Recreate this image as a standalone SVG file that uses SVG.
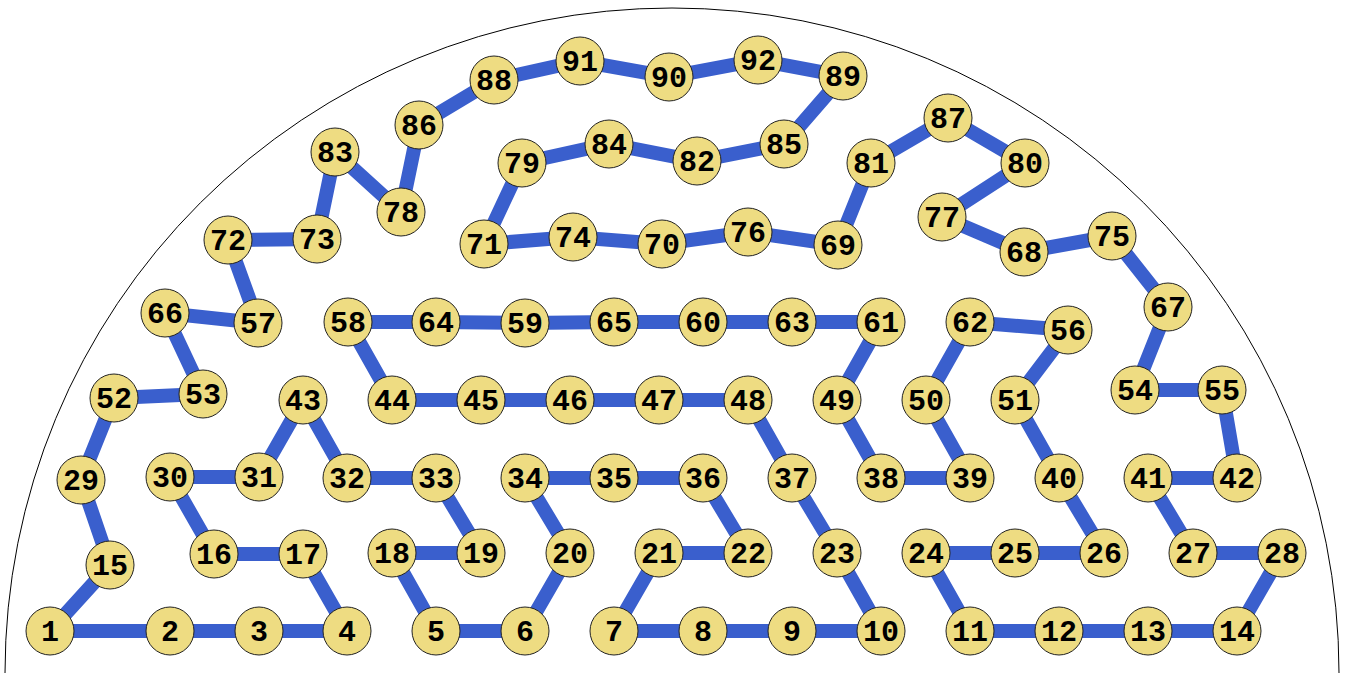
<svg xmlns="http://www.w3.org/2000/svg" width="1345" height="673" viewBox="0 0 1345 673">
<style>
.e{stroke:#3a5fcd;stroke-width:14;fill:none}
.n circle{fill:#eedc82;stroke:#222;stroke-width:1}
.n text{font-family:"Liberation Mono","Courier New",monospace;font-weight:bold;font-size:30px;text-anchor:middle;fill:#000}
</style>
<rect width="1345" height="673" fill="#fff"/>
<path d="M 5 673 A 667 665 0 0 1 1339 673" fill="none" stroke="#000" stroke-width="1"/>
<g id="connectors" class="e">
<polyline points="50,631 170,631 259,631 347,631 303,554 214,554 170,477 259,477 303,400 347,478 436,478 481,553 392,553 436,631 525,631 570,553 525,478 614,478 703,478 748,553 659,553 614,631 703,631 792,631 881,631 837,553 792,478 748,400 659,400 570,400 481,400 392,400 348,322 436,322 525,323 614,322 703,322 792,322 881,322 837,400 881,478 970,478 926,400 970,322 1068,330 1015,400 1059,478 1104,553 1015,553 926,553 970,631 1059,631 1148,631 1237,631 1282,553 1193,553 1148,478 1237,478 1222,390 1135,390 1168,307 1112,236 1024,252 942,217 1025,163 948,118 871,163 838,245 748,232 662,244 573,237 484,244 522,163 609,144 697,161 784,144 843,76 758,60 669,77 580,61 494,80 419,125 401,212 335,152 317,239 228,240 258,323 165,313 203,394 114,398 81,480 110,565 50,631"/>
</g>
<g id="n1" class="n"><circle cx="50" cy="631" r="24"/><text x="50" y="641">1</text></g>
<g id="n2" class="n"><circle cx="170" cy="631" r="24"/><text x="170" y="641">2</text></g>
<g id="n3" class="n"><circle cx="259" cy="631" r="24"/><text x="259" y="641">3</text></g>
<g id="n4" class="n"><circle cx="347" cy="631" r="24"/><text x="347" y="641">4</text></g>
<g id="n5" class="n"><circle cx="436" cy="631" r="24"/><text x="436" y="641">5</text></g>
<g id="n6" class="n"><circle cx="525" cy="631" r="24"/><text x="525" y="641">6</text></g>
<g id="n7" class="n"><circle cx="614" cy="631" r="24"/><text x="614" y="641">7</text></g>
<g id="n8" class="n"><circle cx="703" cy="631" r="24"/><text x="703" y="641">8</text></g>
<g id="n9" class="n"><circle cx="792" cy="631" r="24"/><text x="792" y="641">9</text></g>
<g id="n10" class="n"><circle cx="881" cy="631" r="24"/><text x="881" y="641">10</text></g>
<g id="n11" class="n"><circle cx="970" cy="631" r="24"/><text x="970" y="641">11</text></g>
<g id="n12" class="n"><circle cx="1059" cy="631" r="24"/><text x="1059" y="641">12</text></g>
<g id="n13" class="n"><circle cx="1148" cy="631" r="24"/><text x="1148" y="641">13</text></g>
<g id="n14" class="n"><circle cx="1237" cy="631" r="24"/><text x="1237" y="641">14</text></g>
<g id="n15" class="n"><circle cx="110" cy="565" r="24"/><text x="110" y="575">15</text></g>
<g id="n16" class="n"><circle cx="214" cy="554" r="24"/><text x="214" y="564">16</text></g>
<g id="n17" class="n"><circle cx="303" cy="554" r="24"/><text x="303" y="564">17</text></g>
<g id="n18" class="n"><circle cx="392" cy="553" r="24"/><text x="392" y="563">18</text></g>
<g id="n19" class="n"><circle cx="481" cy="553" r="24"/><text x="481" y="563">19</text></g>
<g id="n20" class="n"><circle cx="570" cy="553" r="24"/><text x="570" y="563">20</text></g>
<g id="n21" class="n"><circle cx="659" cy="553" r="24"/><text x="659" y="563">21</text></g>
<g id="n22" class="n"><circle cx="748" cy="553" r="24"/><text x="748" y="563">22</text></g>
<g id="n23" class="n"><circle cx="837" cy="553" r="24"/><text x="837" y="563">23</text></g>
<g id="n24" class="n"><circle cx="926" cy="553" r="24"/><text x="926" y="563">24</text></g>
<g id="n25" class="n"><circle cx="1015" cy="553" r="24"/><text x="1015" y="563">25</text></g>
<g id="n26" class="n"><circle cx="1104" cy="553" r="24"/><text x="1104" y="563">26</text></g>
<g id="n27" class="n"><circle cx="1193" cy="553" r="24"/><text x="1193" y="563">27</text></g>
<g id="n28" class="n"><circle cx="1282" cy="553" r="24"/><text x="1282" y="563">28</text></g>
<g id="n29" class="n"><circle cx="81" cy="480" r="24"/><text x="81" y="490">29</text></g>
<g id="n30" class="n"><circle cx="170" cy="477" r="24"/><text x="170" y="487">30</text></g>
<g id="n31" class="n"><circle cx="259" cy="477" r="24"/><text x="259" y="487">31</text></g>
<g id="n32" class="n"><circle cx="347" cy="478" r="24"/><text x="347" y="488">32</text></g>
<g id="n33" class="n"><circle cx="436" cy="478" r="24"/><text x="436" y="488">33</text></g>
<g id="n34" class="n"><circle cx="525" cy="478" r="24"/><text x="525" y="488">34</text></g>
<g id="n35" class="n"><circle cx="614" cy="478" r="24"/><text x="614" y="488">35</text></g>
<g id="n36" class="n"><circle cx="703" cy="478" r="24"/><text x="703" y="488">36</text></g>
<g id="n37" class="n"><circle cx="792" cy="478" r="24"/><text x="792" y="488">37</text></g>
<g id="n38" class="n"><circle cx="881" cy="478" r="24"/><text x="881" y="488">38</text></g>
<g id="n39" class="n"><circle cx="970" cy="478" r="24"/><text x="970" y="488">39</text></g>
<g id="n40" class="n"><circle cx="1059" cy="478" r="24"/><text x="1059" y="488">40</text></g>
<g id="n41" class="n"><circle cx="1148" cy="478" r="24"/><text x="1148" y="488">41</text></g>
<g id="n42" class="n"><circle cx="1237" cy="478" r="24"/><text x="1237" y="488">42</text></g>
<g id="n43" class="n"><circle cx="303" cy="400" r="24"/><text x="303" y="410">43</text></g>
<g id="n44" class="n"><circle cx="392" cy="400" r="24"/><text x="392" y="410">44</text></g>
<g id="n45" class="n"><circle cx="481" cy="400" r="24"/><text x="481" y="410">45</text></g>
<g id="n46" class="n"><circle cx="570" cy="400" r="24"/><text x="570" y="410">46</text></g>
<g id="n47" class="n"><circle cx="659" cy="400" r="24"/><text x="659" y="410">47</text></g>
<g id="n48" class="n"><circle cx="748" cy="400" r="24"/><text x="748" y="410">48</text></g>
<g id="n49" class="n"><circle cx="837" cy="400" r="24"/><text x="837" y="410">49</text></g>
<g id="n50" class="n"><circle cx="926" cy="400" r="24"/><text x="926" y="410">50</text></g>
<g id="n51" class="n"><circle cx="1015" cy="400" r="24"/><text x="1015" y="410">51</text></g>
<g id="n52" class="n"><circle cx="114" cy="398" r="24"/><text x="114" y="408">52</text></g>
<g id="n53" class="n"><circle cx="203" cy="394" r="24"/><text x="203" y="404">53</text></g>
<g id="n54" class="n"><circle cx="1135" cy="390" r="24"/><text x="1135" y="400">54</text></g>
<g id="n55" class="n"><circle cx="1222" cy="390" r="24"/><text x="1222" y="400">55</text></g>
<g id="n56" class="n"><circle cx="1068" cy="330" r="24"/><text x="1068" y="340">56</text></g>
<g id="n57" class="n"><circle cx="258" cy="323" r="24"/><text x="258" y="333">57</text></g>
<g id="n58" class="n"><circle cx="348" cy="322" r="24"/><text x="348" y="332">58</text></g>
<g id="n59" class="n"><circle cx="525" cy="323" r="24"/><text x="525" y="333">59</text></g>
<g id="n60" class="n"><circle cx="703" cy="322" r="24"/><text x="703" y="332">60</text></g>
<g id="n61" class="n"><circle cx="881" cy="322" r="24"/><text x="881" y="332">61</text></g>
<g id="n62" class="n"><circle cx="970" cy="322" r="24"/><text x="970" y="332">62</text></g>
<g id="n63" class="n"><circle cx="792" cy="322" r="24"/><text x="792" y="332">63</text></g>
<g id="n64" class="n"><circle cx="436" cy="322" r="24"/><text x="436" y="332">64</text></g>
<g id="n65" class="n"><circle cx="614" cy="322" r="24"/><text x="614" y="332">65</text></g>
<g id="n66" class="n"><circle cx="165" cy="313" r="24"/><text x="165" y="323">66</text></g>
<g id="n67" class="n"><circle cx="1168" cy="307" r="24"/><text x="1168" y="317">67</text></g>
<g id="n68" class="n"><circle cx="1024" cy="252" r="24"/><text x="1024" y="262">68</text></g>
<g id="n69" class="n"><circle cx="838" cy="245" r="24"/><text x="838" y="255">69</text></g>
<g id="n70" class="n"><circle cx="662" cy="244" r="24"/><text x="662" y="254">70</text></g>
<g id="n71" class="n"><circle cx="484" cy="244" r="24"/><text x="484" y="254">71</text></g>
<g id="n72" class="n"><circle cx="228" cy="240" r="24"/><text x="228" y="250">72</text></g>
<g id="n73" class="n"><circle cx="317" cy="239" r="24"/><text x="317" y="249">73</text></g>
<g id="n74" class="n"><circle cx="573" cy="237" r="24"/><text x="573" y="247">74</text></g>
<g id="n75" class="n"><circle cx="1112" cy="236" r="24"/><text x="1112" y="246">75</text></g>
<g id="n76" class="n"><circle cx="748" cy="232" r="24"/><text x="748" y="242">76</text></g>
<g id="n77" class="n"><circle cx="942" cy="217" r="24"/><text x="942" y="227">77</text></g>
<g id="n78" class="n"><circle cx="401" cy="212" r="24"/><text x="401" y="222">78</text></g>
<g id="n79" class="n"><circle cx="522" cy="163" r="24"/><text x="522" y="173">79</text></g>
<g id="n80" class="n"><circle cx="1025" cy="163" r="24"/><text x="1025" y="173">80</text></g>
<g id="n81" class="n"><circle cx="871" cy="163" r="24"/><text x="871" y="173">81</text></g>
<g id="n82" class="n"><circle cx="697" cy="161" r="24"/><text x="697" y="171">82</text></g>
<g id="n83" class="n"><circle cx="335" cy="152" r="24"/><text x="335" y="162">83</text></g>
<g id="n84" class="n"><circle cx="609" cy="144" r="24"/><text x="609" y="154">84</text></g>
<g id="n85" class="n"><circle cx="784" cy="144" r="24"/><text x="784" y="154">85</text></g>
<g id="n86" class="n"><circle cx="419" cy="125" r="24"/><text x="419" y="135">86</text></g>
<g id="n87" class="n"><circle cx="948" cy="118" r="24"/><text x="948" y="128">87</text></g>
<g id="n88" class="n"><circle cx="494" cy="80" r="24"/><text x="494" y="90">88</text></g>
<g id="n89" class="n"><circle cx="843" cy="76" r="24"/><text x="843" y="86">89</text></g>
<g id="n90" class="n"><circle cx="669" cy="77" r="24"/><text x="669" y="87">90</text></g>
<g id="n91" class="n"><circle cx="580" cy="61" r="24"/><text x="580" y="71">91</text></g>
<g id="n92" class="n"><circle cx="758" cy="60" r="24"/><text x="758" y="70">92</text></g>
</svg>
